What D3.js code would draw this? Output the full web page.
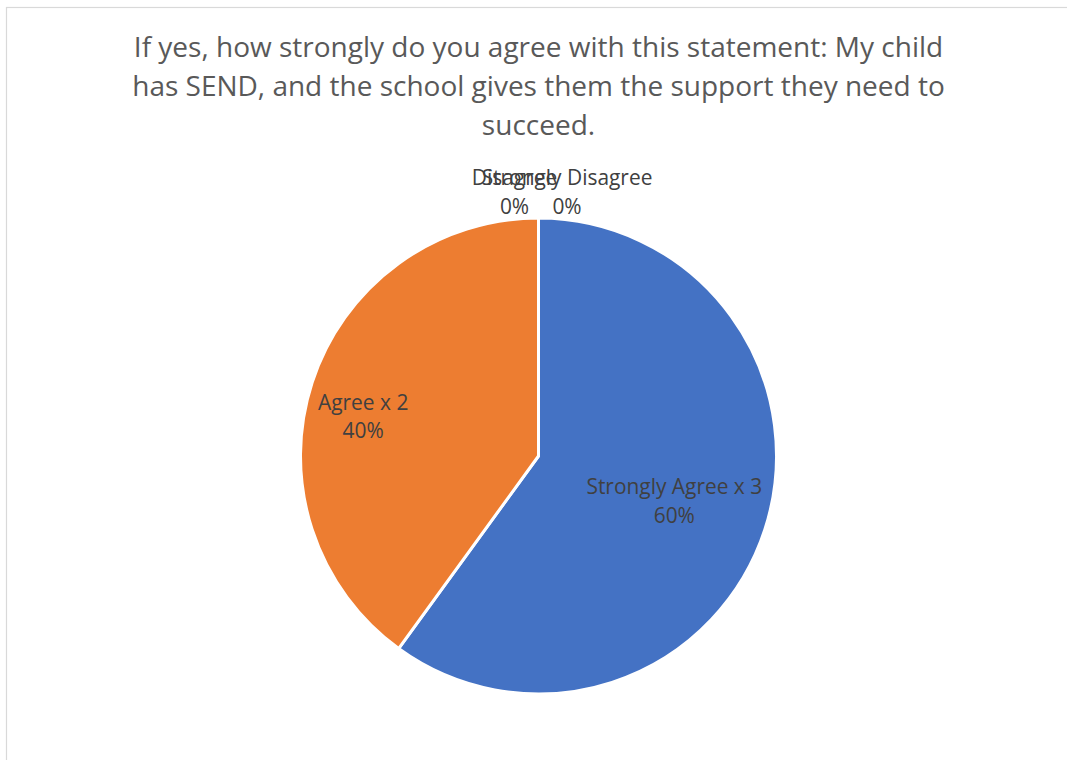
<!DOCTYPE html>
<html>
<head>
<meta charset="utf-8">
<script src="https://cdn.jsdelivr.net/npm/d3@7"></script>
<style>
  html, body { margin: 0; padding: 0; background: #ffffff; }
  svg { display: block; }
  text { font-family: "Open Sans", "Noto Sans", sans-serif; }
</style>
</head>
<body>
<svg id="chart" width="1067" height="760"></svg>
<script>
// ---- data ----
const categories = ["Strongly Agree x 3", "Agree x 2", "Disagree", "Strongly Disagree"];
const values = [3, 2, 0, 0];
const colors = ["#4472C4", "#ED7D31", "#A5A5A5", "#FFC000"];
const titleLines = [
  "If yes, how strongly do you agree with this statement: My child",
  "has SEND, and the school gives them the support they need to",
  "succeed."
];

// ---- layout ----
const W = 1067, H = 760;
const cx = 538.5, cy = 456, R = 238;
const titleSize = 28;
const labelSize = 22;
const labelCondense = 0.95; // horizontal squeeze to mimic a narrower font

const svg = d3.select("#chart");

// chart area border
svg.append("rect")
  .attr("x", 6.5).attr("y", 7.5)
  .attr("width", W + 10).attr("height", H + 10)
  .attr("fill", "#ffffff")
  .attr("stroke", "#D9D9D9")
  .attr("stroke-width", 1.2);

function fitText(sel, factor) {
  sel.each(function () {
    const len = this.getComputedTextLength();
    d3.select(this).attr("textLength", len * factor).attr("lengthAdjust", "spacingAndGlyphs");
  });
}

// title
const title = svg.append("g");
title.selectAll("text")
  .data(titleLines)
  .join("text")
  .attr("x", cx)
  .attr("y", (d, i) => 57 + i * 39)
  .attr("text-anchor", "middle")
  .attr("font-size", titleSize)
  .attr("fill", "#595959")
  .text(d => d);

// pie
const total = d3.sum(values);
const pie = d3.pie().sort(null).value(d => d.value);
const arcs = pie(categories.map((c, i) => ({ name: c, value: values[i], color: colors[i] })));
const arc = d3.arc().innerRadius(0).outerRadius(R);

const g = svg.append("g").attr("transform", `translate(${cx},${cy})`);
g.selectAll("path")
  .data(arcs.filter(a => a.value > 0))
  .join("path")
  .attr("d", arc)
  .attr("fill", d => d.data.color)
  .attr("stroke", "#ffffff")
  .attr("stroke-width", 3)
  .attr("stroke-linejoin", "round");

// data labels
const pct = d3.format(".0%");
const labelG = svg.append("g");
let zeroIndex = 0;
arcs.forEach((a, i) => {
  let x, y;
  if (a.value > 0) {
    const mid = (a.startAngle + a.endAngle) / 2;
    // best-fit placement inside the slice
    const rFrac = a.value / total >= 0.5 ? 0.6 : 0.756;
    const ang = a.value / total >= 0.5 ? mid : mid - 5 * Math.PI / 180;
    x = cx + Math.sin(ang) * R * rFrac;
    y = cy - Math.cos(ang) * R * rFrac;
  } else {
    // zero slices: labels stacked just above the top of the pie
    const p = [Math.sin(a.startAngle) * R, -Math.cos(a.startAngle) * R];
    x = cx + p[0] + (zeroIndex === 0 ? -24 : 28.5);
    y = cy + p[1] - 27;
    zeroIndex++;
  }
  const t = labelG.append("g");
  t.selectAll("text")
    .data([a.data.name, pct(a.value / total)])
    .join("text")
    .attr("x", x)
    .attr("y", (d, j) => y - 6 + j * 28.5)
    .attr("text-anchor", "middle")
    .attr("font-size", labelSize)
    .attr("fill", "#404040")
    .text(d => d)
    .call(fitText, labelCondense);
});
</script>
</body>
</html>
